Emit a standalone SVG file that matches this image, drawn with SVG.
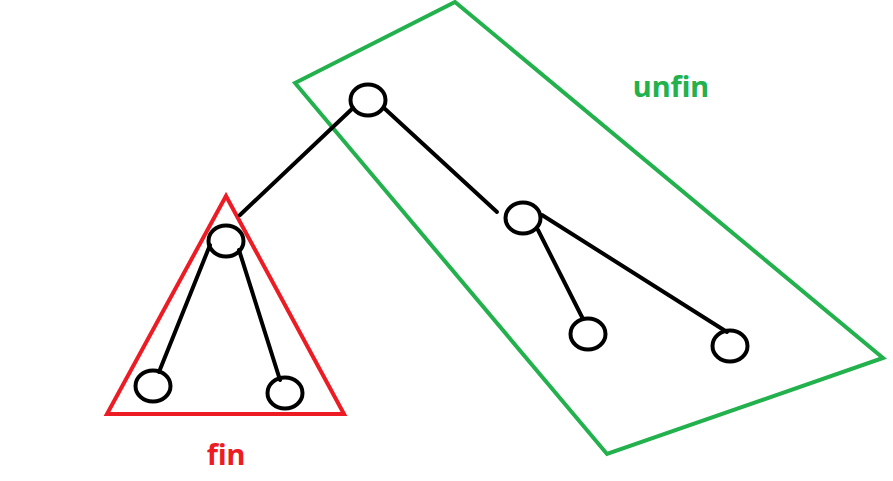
<svg xmlns="http://www.w3.org/2000/svg" width="893" height="481" viewBox="0 0 893 481">
<style>
.node{fill:none;stroke:#000;stroke-width:4}
.edge{stroke:#000;stroke-width:4;stroke-linecap:round}
.lbl{font-family:"Noto Sans","Liberation Sans",sans-serif;font-weight:bold;font-size:29px;text-anchor:middle}
</style>
<rect width="893" height="481" fill="#fff"/>
<g id="unfin-region">
<polygon points="295,83 455,2 883,358 607,454" fill="none" stroke="#22B14C" stroke-width="4"/>
<text class="lbl" x="671" y="97" fill="#22B14C">unfin</text>
</g>
<g id="fin-region">
<polygon points="226,196 107,414 344,414" fill="none" stroke="#ED1C24" stroke-width="4"/>
<text class="lbl" x="226" y="465" fill="#ED1C24">fin</text>
</g>
<g id="connectors">
<line class="edge" x1="353" y1="108" x2="240" y2="215"/>
<line class="edge" x1="384" y1="108" x2="497" y2="212"/>
<line class="edge" x1="538" y1="230" x2="583" y2="319"/>
<line class="edge" x1="542" y1="215" x2="727" y2="332"/>
<line class="edge" x1="210" y1="245" x2="159" y2="372"/>
<line class="edge" x1="239" y1="250" x2="280" y2="380"/>
</g>
<g id="root"><ellipse class="node" cx="368" cy="100" rx="17.5" ry="15.5"/></g>
<g id="left-child"><ellipse class="node" cx="226" cy="241" rx="17.5" ry="15.5"/></g>
<g id="right-child"><ellipse class="node" cx="523" cy="218" rx="17.5" ry="15.5"/></g>
<g id="ll"><ellipse class="node" cx="153" cy="386" rx="17.5" ry="15.5"/></g>
<g id="lr"><ellipse class="node" cx="285" cy="393" rx="17.5" ry="15.5"/></g>
<g id="rl"><ellipse class="node" cx="588" cy="334" rx="17.5" ry="15.5"/></g>
<g id="rr"><ellipse class="node" cx="730" cy="346" rx="17.5" ry="15.5"/></g>
</svg>
